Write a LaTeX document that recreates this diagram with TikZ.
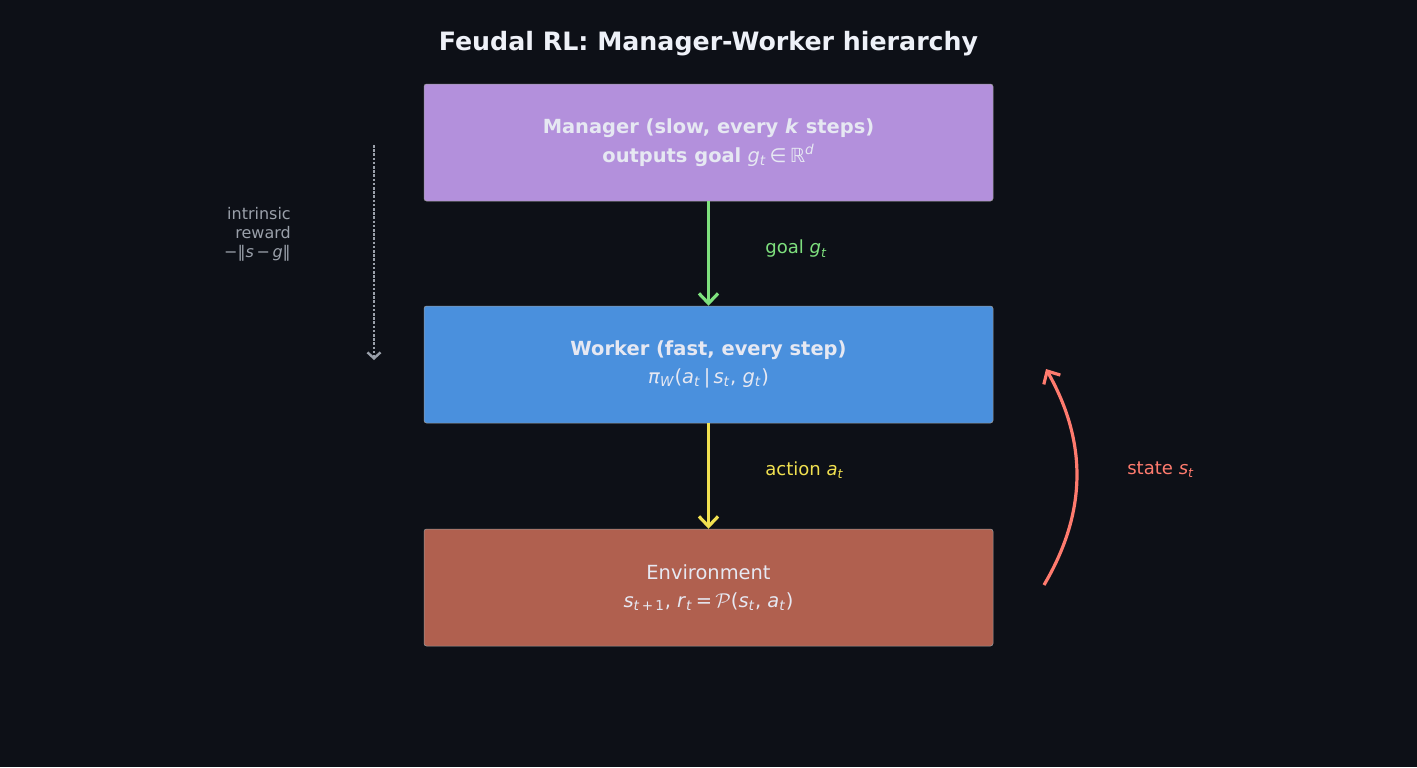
\documentclass[tikz,border=0pt]{standalone}
\usepackage{fontspec}
\setmainfont{DejaVu Sans}
\usetikzlibrary{arrows.meta}
\definecolor{bgc}{HTML}{0D1017}
\definecolor{mgrc}{HTML}{B390DC}
\definecolor{wrkc}{HTML}{4A90DD}
\definecolor{envc}{HTML}{B0604F}
\definecolor{txtc}{HTML}{E6E8F2}
\definecolor{titc}{HTML}{EEF1F8}
\definecolor{goalc}{HTML}{7EE07E}
\definecolor{actc}{HTML}{F0E050}
\definecolor{statec}{HTML}{FF7B6E}
\definecolor{grayc}{HTML}{9AA0AA}
\newcommand{\pxu}{0.72pt}
\newcommand{\mi}[1]{\textit{#1}}
\newcommand{\sbs}[1]{\textsubscript{#1}}
\newcommand{\sps}[1]{\textsuperscript{#1}}
\tikzset{
  box/.style={rounded corners=2.5*\pxu, minimum width=569*\pxu, minimum height=117*\pxu,
    inner sep=0pt, align=center, text=txtc, draw=black!40, line width=0.5*\pxu,
    font=\fontsize{14}{20.5}\selectfont},
  flow/.style={line width=3.2*\pxu, -{Straight Barb[length=10*\pxu, width=19*\pxu, line width=3.2*\pxu]}},
  lbl/.style={anchor=west, inner sep=0pt, font=\fontsize{13}{15}\selectfont}
}
\begin{document}
\begin{tikzpicture}[x=\pxu, y=-\pxu]
\fill[bgc] (0,0) rectangle (1417,767);
\useasboundingbox (0,0) rectangle (1417,767);
\node[text=titc, font=\bfseries\fontsize{18.2}{20}\selectfont] (title) at (708.5,43.5) {Feudal RL: Manager-Worker hierarchy};
\node[box, fill=mgrc] (mgr) at (708.5,142.5) {\textbf{Manager (slow, every \mi{k} steps)}\\\textbf{outputs goal} \mi{g}\sbs{\mi{t}}\,∈\,ℝ\sps{\mi{d}}};
\node[box, fill=wrkc] (wrk) at (708.5,364.5) {\textbf{Worker (fast, every step)}\\\mi{π}\sbs{\mi{W}}(\mi{a}\sbs{\mi{t}}\,|\,\mi{s}\sbs{\mi{t}}, \mi{g}\sbs{\mi{t}})};
\node[box, fill=envc] (env) at (708.5,587.5) {Environment\\\mi{s}\sbs{\mi{t}\,+\,1}, \mi{r}\sbs{\mi{t}}\,=\,$\mathcal{P}$(\mi{s}\sbs{\mi{t}}, \mi{a}\sbs{\mi{t}})};
\draw[flow, goalc] (mgr.south) -- (wrk.north);
\draw[flow, actc] (wrk.south) -- (env.north);
\node[lbl, text=goalc] (goallbl) at (765,249) {goal \mi{g}\sbs{\mi{t}}};
\node[lbl, text=actc] (actlbl) at (765,470) {action \mi{a}\sbs{\mi{t}}};
\node[lbl, text=statec] (statelbl) at (1127,470) {state \mi{s}\sbs{\mi{t}}};
\coordinate (sbot) at (1044,585);
\coordinate (stop) at (1046,369);
\draw[flow, statec] (sbot) to[bend right=30] (stop);
\coordinate (dtop) at (374,145);
\coordinate (dbot) at (374,360);
\draw[grayc, line width=2.6*\pxu, dash pattern=on 2.6*\pxu off 1.6*\pxu, -{Straight Barb[length=6*\pxu, width=13*\pxu, line width=2.4*\pxu]}] (dtop) -- (dbot);
\node[anchor=east, align=right, text=grayc, inner sep=0pt, font=\fontsize{11.5}{13.7}\selectfont] (intr) at (291,234) {intrinsic\\reward\\−‖\mi{s}\,−\,\mi{g}‖};
\end{tikzpicture}
\end{document}
